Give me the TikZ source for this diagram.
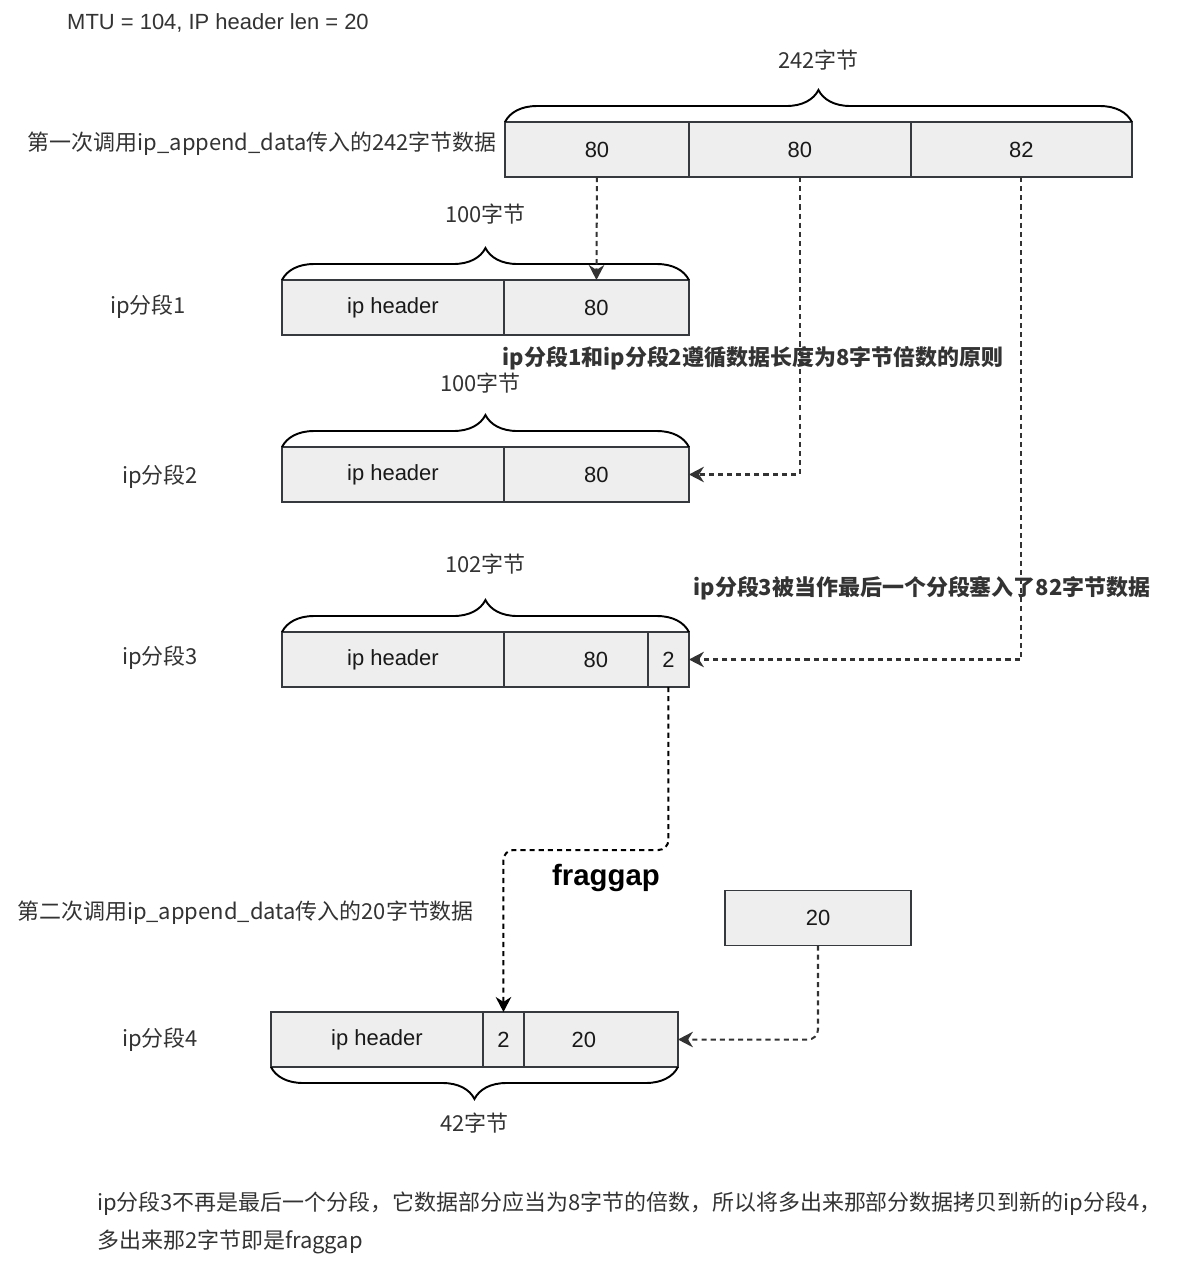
\documentclass[tikz,border=0pt]{standalone}
\usepackage{fontspec}
\setmainfont{Liberation Sans}
\newfontfamily\cjk{Noto Sans CJK SC}
\usetikzlibrary{positioning, arrows.meta, decorations.pathreplacing}

\definecolor{boxfill}{HTML}{EEEEEE}
\definecolor{boxline}{HTML}{36393D}
\definecolor{txtgray}{HTML}{333333}

\tikzset{
  cell/.style={draw=boxline, fill=boxfill, line width=1.1pt, minimum height=1.1cm,
    inner sep=0pt, outer sep=0pt, text=black!90, font=\fontsize{12.5}{15}\selectfont},
  link/.style={draw=txtgray, line width=1.15pt, dash pattern=on 2.9pt off 2.3pt,
    -{Stealth[length=0.3cm, width=0.31cm]}},
  brc/.style={decorate, decoration={brace, amplitude=0.64cm}, line width=1.1pt},
  lbl/.style={font=\cjk\fontsize{12.5}{15}\selectfont, text=txtgray},
  note/.style={font=\cjk\bfseries\fontsize{12.5}{15}\selectfont, text=txtgray},
}

\begin{document}
\begin{tikzpicture}[x=0.02cm, y=-0.02cm]
  \useasboundingbox (0,0) rectangle (1200,1265);

  \node[anchor=west, text=txtgray, font=\fontsize{12.5}{15}\selectfont] (mtu) at (61,23) {MTU = 104, IP header len = 20};

  % first call, 242 bytes
  \node[cell, minimum width=3.68cm, anchor=west] (t1) at (505,149.5) {80};
  \node[cell, minimum width=4.44cm, right=0pt of t1] (t2) {80};
  \node[cell, minimum width=4.42cm, right=0pt of t2] (t3) {82};
  \node[lbl, anchor=east] (call1) at (503,144) {第一次调用ip\_append\_data传入的242字节数据};
  \draw[brc] (t1.north west) -- (t3.north east) node[lbl, midway, above=0.9cm] (len0) {242字节};

  % fragment 1
  \node[cell, minimum width=4.44cm, anchor=west] (h1) at (282,307.5) {ip header};
  \node[cell, minimum width=3.70cm, right=0pt of h1] (d1) {80};
  \node[lbl] (seg1) at (148,307) {ip分段1};
  \draw[brc] (h1.north west) -- (d1.north east) node[lbl, midway, above=0.98cm] (len1) {100字节};

  \node[note] (rule) at (753,358) {ip分段1和ip分段2遵循数据长度为8字节倍数的原则};

  % fragment 2
  \node[cell, minimum width=4.44cm, anchor=west] (h2) at (282,474.5) {ip header};
  \node[cell, minimum width=3.70cm, right=0pt of h2] (d2) {80};
  \node[lbl] (seg2) at (160,477) {ip分段2};
  \draw[brc] (h2.north west) -- (d2.north east) node[lbl, midway, above=0.94cm, xshift=-0.1cm] (len2) {100字节};

  % fragment 3
  \node[cell, minimum width=4.44cm, anchor=west] (h3) at (282,659.5) {ip header};
  \node[cell, minimum width=2.88cm, right=0pt of h3] (d3) {\hspace*{0.8cm}80};
  \node[cell, minimum width=0.82cm, right=0pt of d3] (g3) {2};
  \node[lbl] (seg3) at (160,658) {ip分段3};
  \draw[brc] (h3.north west) -- (g3.north east) node[lbl, midway, above=1.02cm] (len3) {102字节};

  \node[note] (last) at (922,588) {ip分段3被当作最后一个分段塞入了82字节数据};

  % second call, 20 bytes
  \node[font=\bfseries\fontsize{16.7}{20}\selectfont] (gap) at (606,878) {fraggap};
  \node[lbl, anchor=west] (call2) at (11,913) {第二次调用ip\_append\_data传入的20字节数据};
  \node[cell, minimum width=3.72cm] (w20) at (818,918) {20};

  % fragment 4
  \node[cell, minimum width=4.24cm, anchor=west] (h4) at (271,1039.5) {ip header};
  \node[cell, minimum width=0.82cm, right=0pt of h4] (g4) {2};
  \node[cell, minimum width=3.08cm, right=0pt of g4] (d4) {20\hspace*{0.68cm}};
  \node[lbl] (seg4) at (160,1040) {ip分段4};
  \draw[brc] (d4.south east) -- (h4.south west) node[lbl, midway, below=0.78cm] (len4) {42字节};

  % links
  \draw[link] (t1.south) -- (d1.north);
  \draw[link] (t2.south) |- (d2.east);
  \draw[link] (t3.south) |- (g3.east);
  \coordinate (bend) at (0,850);
  \draw[link, draw=black, rounded corners=0.2cm] (g3.south) -- (g3.south |- bend) -| (g4.north);
  \draw[link, rounded corners=0.2cm] (w20.south) |- (d4.east);

  \node[lbl, anchor=base west] (note1) at (91,1210) {ip分段3不再是最后一个分段，它数据部分应当为8字节的倍数，所以将多出来那部分数据拷贝到新的ip分段4，};
  \node[lbl, anchor=base west] (note2) at (91,1248) {多出来那2字节即是fraggap};
\end{tikzpicture}
\end{document}
